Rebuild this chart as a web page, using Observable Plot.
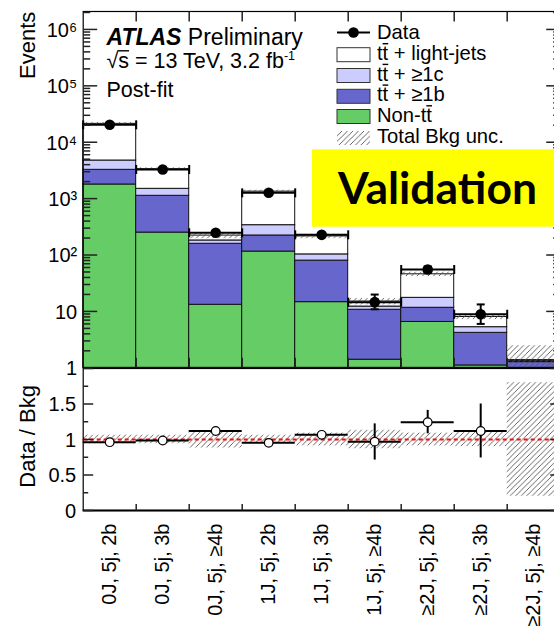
<!DOCTYPE html>
<html><head><meta charset="utf-8">
<script src="https://cdn.jsdelivr.net/npm/d3@7"></script>
<script src="https://cdn.jsdelivr.net/npm/@observablehq/plot@0.6"></script>
<style>
html,body{margin:0;padding:0;overflow:hidden;background:#fff;}
#wrap{position:relative;width:560px;height:635px;font-family:"Liberation Sans",Arial,sans-serif;}
#wrap > svg{display:block;}
#overlay{position:absolute;left:0;top:0;pointer-events:none;}
</style></head><body><div id="wrap"></div>
<script>
// ---------------- data ----------------
const categories = ["0J, 5j, 2b","0J, 5j, 3b","0J, 5j, \u22654b","1J, 5j, 2b","1J, 5j, 3b","1J, 5j, \u22654b","\u22652J, 5j, 2b","\u22652J, 5j, 3b","\u22652J, 5j, \u22654b"];
const nonTT   = [1780, 250, 13.1, 115, 14.6, 1.39, 6.5, 1.1, 0.35];
const ttB     = [1460, 872, 145, 107, 65, 9.3, 5.1, 3.07, 0.91];
const ttC     = [1500, 370, 23, 116, 23, 1.5, 5.8, 1.08, 0.05];
const ttLight = [16420, 1835, 40, 992, 111, 2.8, 28.1, 2.7, 0.06];
const dataVal = [20360, 3280, 248, 1267, 228, 14.6, 55.3, 8.9, null];
const dataLo  = [20220, 3223, 232, 1231, 213, 10.9, 48.2, 6.0, null];
const dataHi  = [20500, 3337, 264, 1303, 243, 19.9, 62.7, 13.3, null];
const bkgRelUnc = [0.06, 0.06, 0.12, 0.06, 0.09, 0.13, 0.09, 0.10, 0.80];
const ratioVal = [0.962, 0.986, 1.12, 0.953, 1.066, 0.97, 1.244, 1.12, null];
const ratioLo  = [0.955, 0.970, 1.07, 0.930, 1.010, 0.71, 1.08, 0.74, null];
const ratioHi  = [0.969, 1.002, 1.17, 0.976, 1.120, 1.22, 1.41, 1.50, null];
const compNames = ["Non-tt", "tt + >=1b", "tt + >=1c", "tt + light-jets"];
const compColors = ["#66cc66", "#6666cc", "#ccccff", "#ffffff"];
const yTickValues = [1, 10, 100, 1e3, 1e4, 1e5, 1e6];
const yTickLabels = ["1", "10", "10\u00b2", "10\u00b3", "10\u2074", "10\u2075", "10\u2076"];
const rTickValues = [0, 0.5, 1, 1.5];
const rTickLabels = ["0", "0.5", "1", "1.5"];
const yDomain = [1, 2.08e6];
const rDomain = [0, 2];

// ---------------- derived tables ----------------
const comps = [nonTT, ttB, ttC, ttLight];
const stackRows = [], bandRows = [], dataRows = [], ratioRows = [];
categories.forEach((c, i) => {
  let cum = 1e-3;
  comps.forEach((arr, k) => {
    const y1 = cum, y2 = cum + arr[i];
    stackRows.push({x1: i, x2: i + 1, y1, y2, comp: compNames[k]});
    cum = y2;
  });
  const total = nonTT[i] + ttB[i] + ttC[i] + ttLight[i];
  bandRows.push({x1: i, x2: i + 1, y1: total * (1 - bkgRelUnc[i]), y2: total * (1 + bkgRelUnc[i]),
                 r1: 1 - bkgRelUnc[i], r2: 1 + bkgRelUnc[i]});
  if (dataVal[i] != null) {
    dataRows.push({x1: i, x2: i + 1, xc: i + 0.5, v: dataVal[i], lo: dataLo[i], hi: dataHi[i]});
    ratioRows.push({x1: i, x2: i + 1, xc: i + 0.5, v: ratioVal[i], lo: ratioLo[i], hi: ratioHi[i]});
  }
});
const edges = d3.range(1, categories.length);
const minorTicks = [];
for (let e = 0; e <= 6; e++) for (let m = 2; m <= 9; m++) { const v = m * 10 ** e; if (v <= yDomain[1]) minorTicks.push(v); }
const rMinor = [0.25, 0.75, 1.25, 1.75];
const rMajor = [0, 0.5, 1, 1.5, 2];

const seg = (dx, dy) => ({draw(ctx) { ctx.moveTo(0, 0); ctx.lineTo(dx, dy); }});
const cen = (dx, dy) => ({draw(ctx) { ctx.moveTo(-dx, -dy); ctx.lineTo(dx, dy); }});

const font = "Liberation Sans, Arial, sans-serif";
const wrap = document.getElementById("wrap");

// ---------------- top panel ----------------
const topPlot = Plot.plot({
  width: 560, height: 368,
  marginLeft: 82.7, marginRight: 0.3, marginTop: 11, marginBottom: 0.7,
  x: {domain: [0, 9], axis: null},
  y: {type: "log", domain: yDomain, axis: null, clamp: true},
  color: {domain: compNames, range: compColors},
  style: {fontFamily: font, background: "transparent", overflow: "visible", color: "black"},
  marks: [
    Plot.rect(stackRows, {x1: "x1", x2: "x2", y1: "y1", y2: "y2", fill: "comp", stroke: "#111", strokeWidth: 1}),
    Plot.rect(bandRows, {x1: "x1", x2: "x2", y1: "y1", y2: "y2", fill: "url(#hatchTop)"}),
    Plot.ruleY(dataRows, {x1: "x1", x2: "x2", y: "v", stroke: "black", strokeWidth: 2}),
    Plot.dot(dataRows, {x: "x1", y: "v", symbol: cen(0, 4.5), stroke: "black", strokeWidth: 2, fill: "none"}),
    Plot.dot(dataRows, {x: "x2", y: "v", symbol: cen(0, 4.5), stroke: "black", strokeWidth: 2, fill: "none"}),
    Plot.ruleX(dataRows, {x: "xc", y1: "lo", y2: "hi", stroke: "black", strokeWidth: 2}),
    Plot.dot(dataRows.filter(d => d.hi / d.lo > 1.3), {x: "xc", y: "lo", symbol: cen(4, 0), stroke: "black", strokeWidth: 2, fill: "none"}),
    Plot.dot(dataRows.filter(d => d.hi / d.lo > 1.3), {x: "xc", y: "hi", symbol: cen(4, 0), stroke: "black", strokeWidth: 2, fill: "none"}),
    Plot.dot(dataRows, {x: "xc", y: "v", r: 5.3, fill: "black"}),
    Plot.frame({stroke: "black", strokeWidth: 1.2}),
    Plot.dot(yTickValues.filter(v => v > 1), {x: () => 0, y: d => d, symbol: seg(14, 0), stroke: "#222", fill: "none"}),
    Plot.dot(minorTicks, {x: () => 0, y: d => d, symbol: seg(7, 0), stroke: "#222", fill: "none"}),
    Plot.dot(yTickValues.filter(v => v > 1), {x: () => 9, y: d => d, symbol: seg(-14, 0), stroke: "#222", fill: "none"}),
    Plot.dot(minorTicks, {x: () => 9, y: d => d, symbol: seg(-7, 0), stroke: "#222", fill: "none"}),
    Plot.dot(edges, {x: d => d, y: () => yDomain[0], symbol: seg(0, -10), stroke: "#222", fill: "none"}),
    Plot.dot(edges, {x: d => d, y: () => yDomain[1], symbol: seg(0, 10), stroke: "#222", fill: "none"}),
    Plot.text(yTickValues, {frameAnchor: "left", y: d => d, text: (d, i) => yTickLabels[i], textAnchor: "end", dx: -6, dy: 1, fontSize: 20, fill: "black"})
  ]
});

// ---------------- ratio panel ----------------
const bottomPlot = Plot.plot({
  width: 560, height: 267,
  marginLeft: 82.7, marginRight: 0.3, marginTop: 0, marginBottom: 125,
  x: {domain: [0, 9], axis: null},
  y: {domain: rDomain, axis: null, clamp: true},
  style: {fontFamily: font, background: "transparent", overflow: "visible", color: "black"},
  marks: [
    Plot.rect(bandRows, {x1: "x1", x2: "x2", y1: "r1", y2: "r2", fill: "url(#hatchBot)"}),
    Plot.ruleY([1], {stroke: "#ee1111", strokeWidth: 2, strokeDasharray: "4,3"}),
    Plot.ruleY(ratioRows, {x1: "x1", x2: "x2", y: "v", stroke: "black", strokeWidth: 2}),
    Plot.ruleX(ratioRows, {x: "xc", y1: "lo", y2: "hi", stroke: "black", strokeWidth: 2}),
    Plot.dot(ratioRows, {x: "xc", y: "v", r: 4.3, fill: "white", stroke: "black", strokeWidth: 1.2}),
    Plot.frame({stroke: "black", strokeWidth: 1.2}),
    Plot.ruleY([0], {stroke: "black", strokeWidth: 2.2}),
    Plot.dot(rMajor, {x: () => 0, y: d => d, symbol: seg(10, 0), stroke: "#222", fill: "none"}),
    Plot.dot(rMinor, {x: () => 0, y: d => d, symbol: seg(5, 0), stroke: "#222", fill: "none"}),
    Plot.dot(rMajor, {x: () => 9, y: d => d, symbol: seg(-10, 0), stroke: "#222", fill: "none"}),
    Plot.dot(rMinor, {x: () => 9, y: d => d, symbol: seg(-5, 0), stroke: "#222", fill: "none"}),
    Plot.dot(edges, {x: d => d, y: () => 0, symbol: seg(0, -6.5), stroke: "#222", fill: "none"}),
    Plot.text(rTickValues, {frameAnchor: "left", y: d => d, text: (d, i) => rTickLabels[i], textAnchor: "end", dx: -7, dy: 1, fontSize: 20, fill: "black"}),
    Plot.text(categories, {x: (d, i) => i + 0.5, frameAnchor: "bottom", text: d => d, rotate: -90, textAnchor: "end", lineAnchor: "middle", dy: 13, fontSize: 20, fill: "black"})
  ]
});

function addHatch(svg, id) {
  const defs = d3.select(svg).insert("defs", ":first-child");
  const p = defs.append("pattern").attr("id", id).attr("patternUnits", "userSpaceOnUse")
    .attr("width", 5.5).attr("height", 5.5);
  p.append("path").attr("d", "M-1,1L1,-1M0,5.5L5.5,0M4.5,6.5L6.5,4.5")
    .attr("stroke", "#555").attr("stroke-width", 0.9).attr("fill", "none");
}
addHatch(topPlot, "hatchTop");
addHatch(bottomPlot, "hatchBot");
wrap.appendChild(topPlot);
wrap.appendChild(bottomPlot);

// ---------------- overlay: titles, legend, labels ----------------
const ov = d3.select(wrap).append("svg").attr("id", "overlay").attr("width", 560).attr("height", 635)
  .style("font-family", font);
addHatch(ov.node(), "hatchLeg");

function overbar(textSel, i0, i1, yTop, extendLeft = 0) {
  const n = textSel.node();
  const xa = n.getStartPositionOfChar(i0).x - extendLeft;
  const xb = n.getEndPositionOfChar(i1).x;
  ov.append("line").attr("x1", xa).attr("x2", xb).attr("y1", yTop).attr("y2", yTop)
    .attr("stroke", "black").attr("stroke-width", 1.4);
}

ov.append("text").attr("transform", "translate(35,11.7) rotate(-90)").attr("text-anchor", "end")
  .attr("font-size", 22).text("Events");
ov.append("text").attr("transform", "translate(35,385) rotate(-90)").attr("text-anchor", "end")
  .attr("font-size", 22).text("Data / Bkg");

const t1 = ov.append("text").attr("x", 106.5).attr("y", 45).attr("font-size", 23);
t1.append("tspan").attr("font-weight", "bold").attr("font-style", "italic").text("ATLAS");
t1.append("tspan").text(" Preliminary");
const t2 = ov.append("text").attr("x", 106.5).attr("y", 68.3).attr("font-size", 21.5);
t2.append("tspan").text("\u221as = 13 TeV, 3.2 fb");
t2.append("tspan").attr("dy", -8).attr("font-size", 12.5).text("-1");
overbar(t2, 1, 1, 68.3 - 17.5, 1);
ov.append("text").attr("x", 106.5).attr("y", 96.5).attr("font-size", 21.5).text("Post-fit");

const lx = 337, lw = 33, tx = 377, lfs = 20.2;
ov.append("line").attr("x1", lx).attr("x2", lx + lw).attr("y1", 32.5).attr("y2", 32.5).attr("stroke", "black").attr("stroke-width", 2);
ov.append("circle").attr("cx", lx + lw / 2).attr("cy", 32.5).attr("r", 5.3).attr("fill", "black");
ov.append("text").attr("x", tx).attr("y", 39).attr("font-size", lfs).text("Data");
const legItems = [
  {k: 3, y: 47.7, base: 60, prefix: "", suffix: " + light-jets"},
  {k: 2, y: 68.5, base: 80.7, prefix: "", suffix: " + \u22651c"},
  {k: 1, y: 89.3, base: 101.4, prefix: "", suffix: " + \u22651b"},
  {k: 0, y: 109.5, base: 122.1, prefix: "Non-", suffix: ""}
];
legItems.forEach(it => {
  ov.append("rect").attr("x", lx).attr("y", it.y).attr("width", lw).attr("height", 14)
    .attr("fill", compColors[it.k]).attr("stroke", "#333").attr("stroke-width", 1);
  const t = ov.append("text").attr("x", tx).attr("y", it.base).attr("font-size", lfs)
    .text(it.prefix + "tt" + it.suffix);
  const idx = it.prefix.length + 1;
  overbar(t, idx, idx, it.base - 16.3);
});
ov.append("rect").attr("x", lx).attr("y", 131).attr("width", lw).attr("height", 14).attr("fill", "url(#hatchLeg)");
ov.append("text").attr("x", tx).attr("y", 143.3).attr("font-size", lfs).text("Total Bkg unc.");

ov.append("rect").attr("x", 312).attr("y", 149.3).attr("width", 260).attr("height", 77.4).attr("fill", "#ffff00");
ov.append("text").attr("x", 338).attr("y", 203.5).attr("font-size", 44).attr("font-weight", "bold")
  .attr("font-family", "Lato, 'Open Sans', sans-serif").attr("textLength", 199).attr("lengthAdjust", "spacingAndGlyphs")
  .text("Validation");
</script></body></html>
